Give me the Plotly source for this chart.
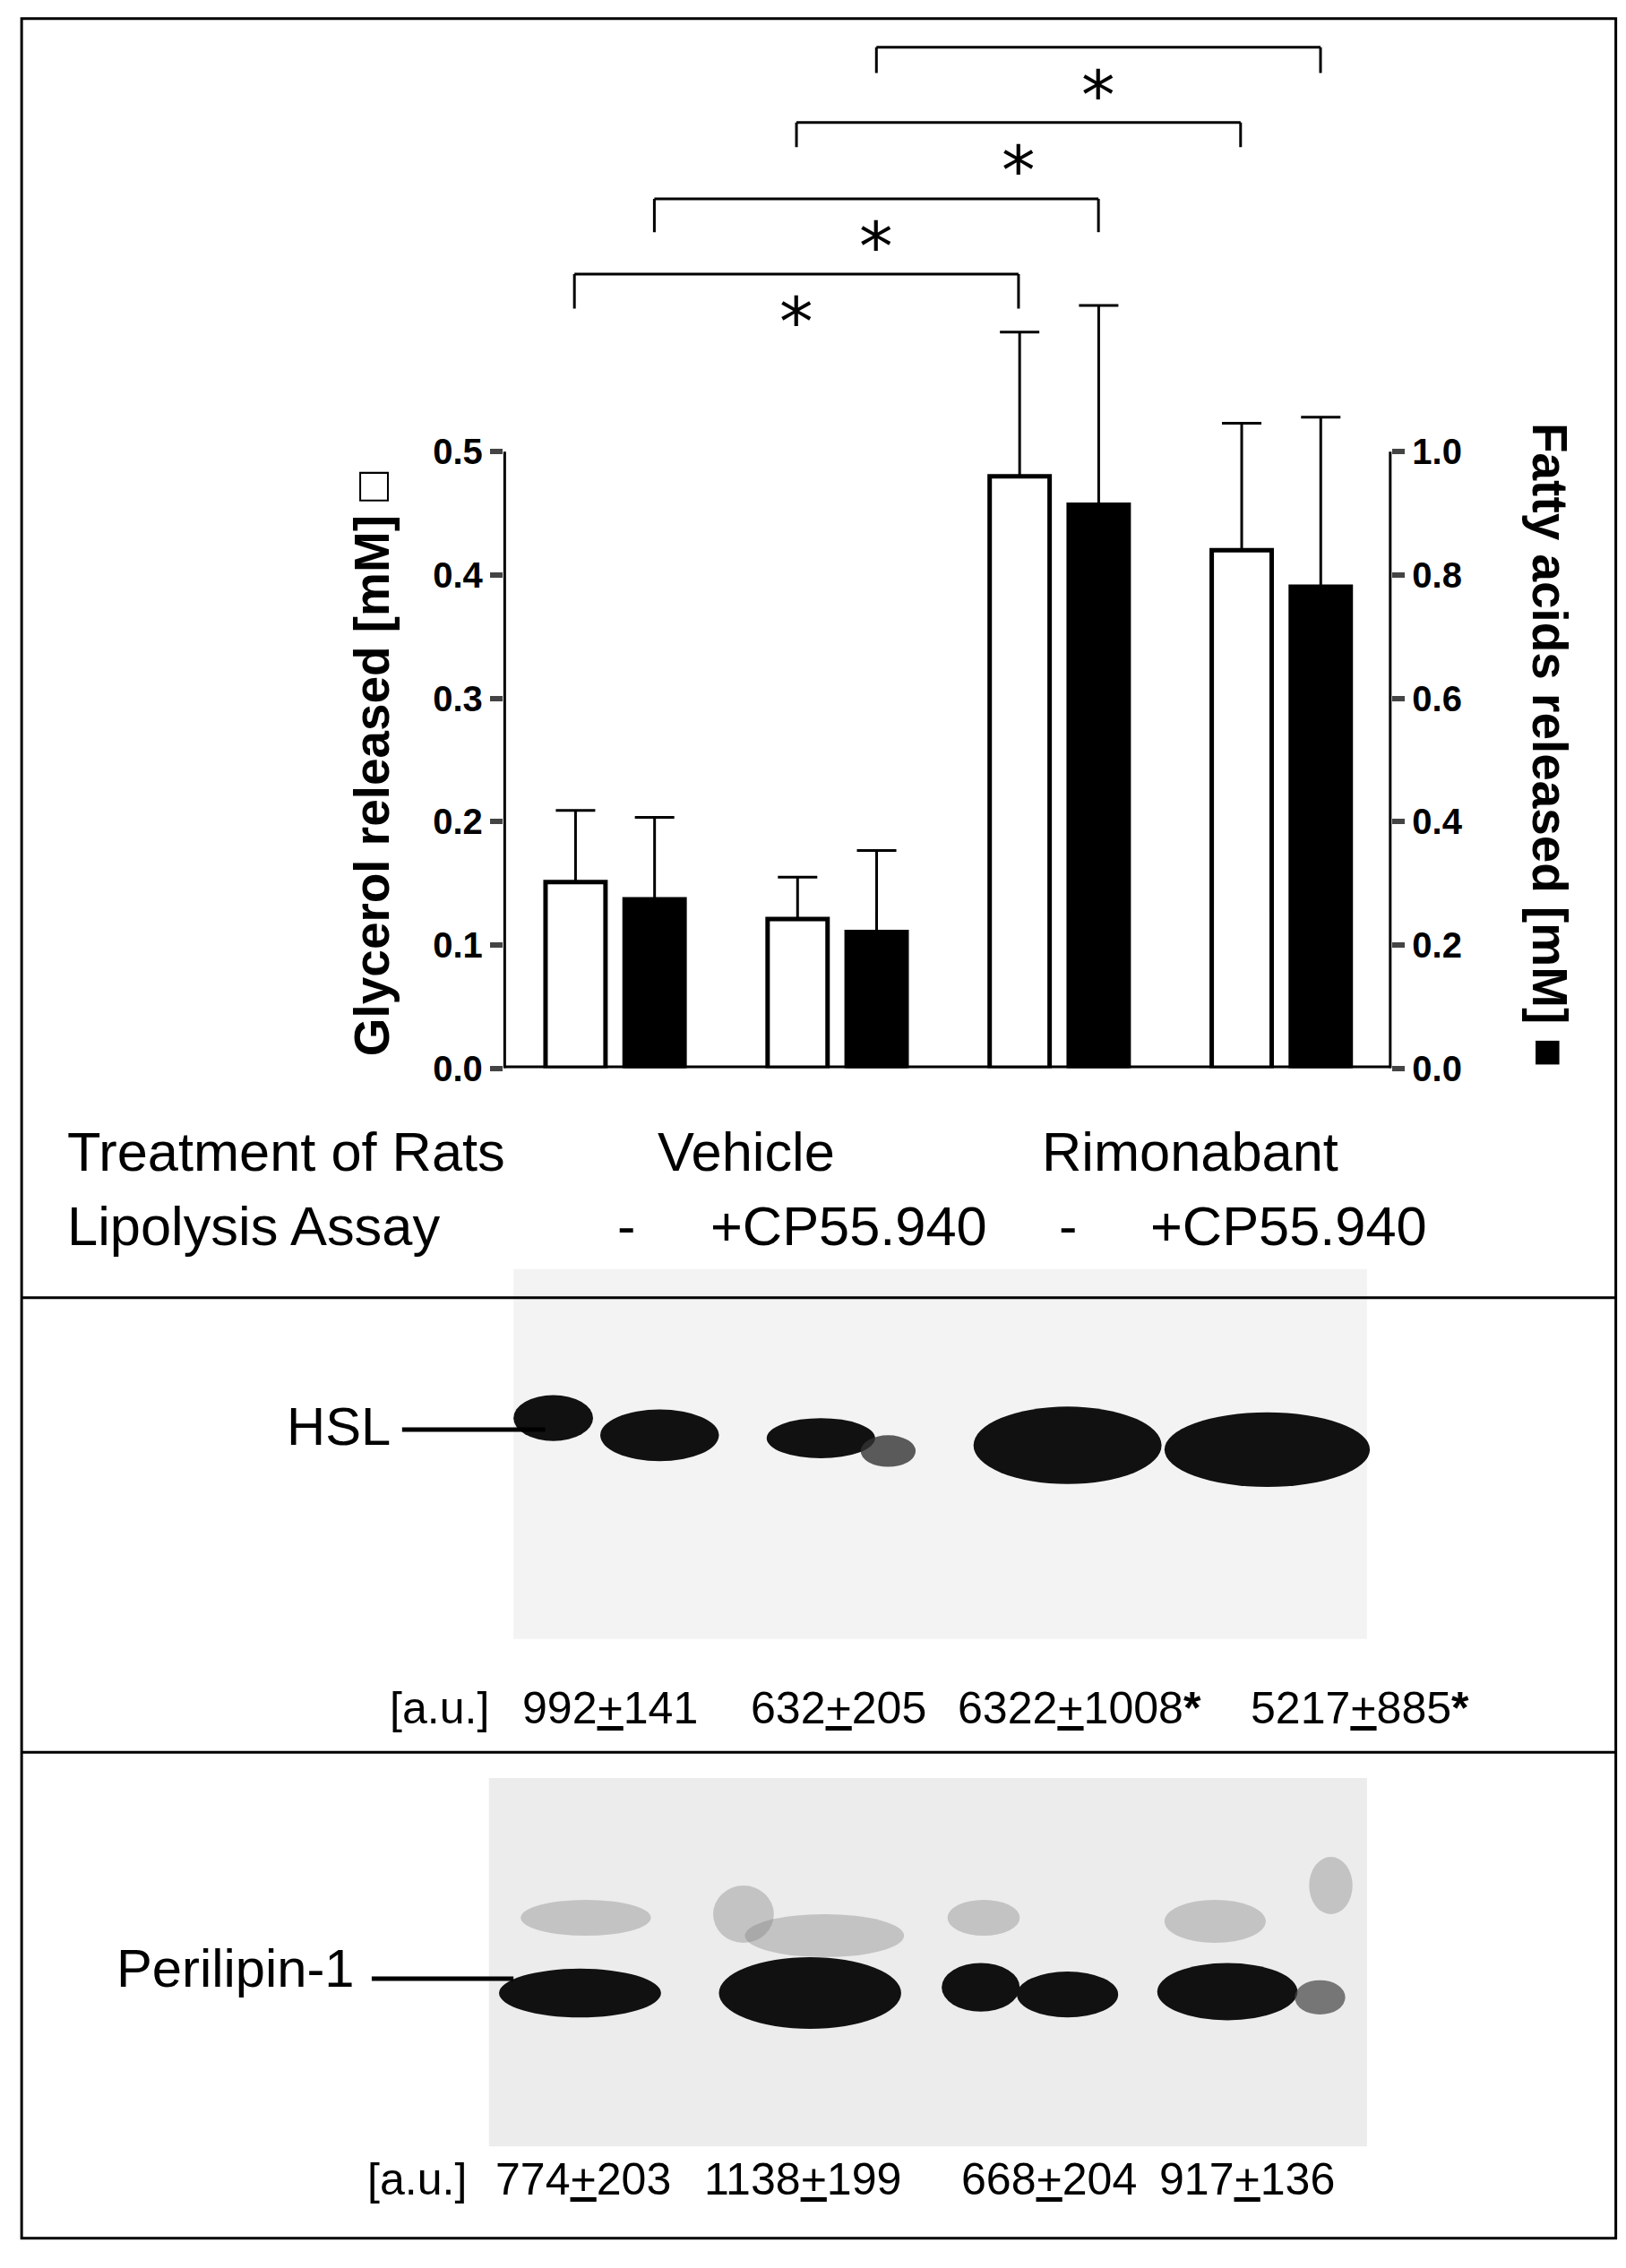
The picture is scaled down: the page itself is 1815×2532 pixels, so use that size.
import plotly.graph_objects as go

# values
groups = [0, 1, 2, 3]
glycerol = [0.151, 0.121, 0.480, 0.420]
glycerol_err = [0.058, 0.034, 0.117, 0.103]
fatty_acids = [0.274, 0.221, 0.914, 0.781]
fatty_err = [0.133, 0.132, 0.323, 0.275]
treatment_labels = ["Vehicle", "Rimonabant"]
assay_labels = ["-", "+CP55.940", "-", "+CP55.940"]
hsl_values = ["992<u>+</u>141", "632<u>+</u>205", "6322<u>+</u>1008<b>*</b>", "5217<u>+</u>885<b>*</b>"]
plin_values = ["774<u>+</u>203", "1138<u>+</u>199", "668<u>+</u>204", "917<u>+</u>136"]

W, H = 1124.0, 1568.0  # reference drawing units
S = 1815 / W
FONT = "Liberation Sans, Arial"


def px(x):
    return x / W


def py(y):
    return 1 - y / H


fig = go.Figure()
fig.add_trace(go.Bar(x=groups, y=glycerol, width=0.27, offset=-0.31,
                     marker=dict(color="white", line=dict(color="black", width=5)),
                     error_y=dict(type="data", array=glycerol_err, symmetric=False, arrayminus=[0] * 4,
                                  color="black", thickness=3, width=22),
                     yaxis="y"))
fig.add_trace(go.Bar(x=groups, y=fatty_acids, width=0.27, offset=0.046,
                     marker=dict(color="black", line=dict(color="black", width=5)),
                     error_y=dict(type="data", array=fatty_err, symmetric=False, arrayminus=[0] * 4,
                                  color="black", thickness=3, width=22),
                     yaxis="y2"))

ytop = 0.8372
tickfont = dict(family=FONT, size=40, color="black", weight="bold")
fig.update_layout(
    width=1815, height=2532, margin=dict(l=0, r=0, t=0, b=0),
    paper_bgcolor="white", plot_bgcolor="white", showlegend=False, barmode="overlay",
    xaxis=dict(domain=[px(343), px(957)], range=[-0.5, 3.5], showticklabels=False,
               showgrid=False, zeroline=False, showline=False, ticks=""),
    yaxis=dict(domain=[py(740), py(20)], range=[0, ytop], tickvals=[0, 0.1, 0.2, 0.3, 0.4, 0.5],
               ticktext=["0.0", "0.1", "0.2", "0.3", "0.4", "0.5"], ticks="outside", ticklen=14,
               tickwidth=6, showgrid=False, zeroline=False, showline=False, tickfont=tickfont),
    yaxis2=dict(overlaying="y", side="right", range=[0, 2 * ytop],
                tickvals=[0, 0.2, 0.4, 0.6, 0.8, 1.0],
                ticktext=["0.0", "0.2", "0.4", "0.6", "0.8", "1.0"], ticks="outside", ticklen=14,
                tickwidth=6, showgrid=False, zeroline=False, showline=False, tickfont=tickfont),
)

shapes = []
line_k = dict(color="black", width=6)
# axis lines
shapes.append(dict(type="line", xref="x", yref="y", x0=-0.5, x1=-0.5, y0=0, y1=0.5, line=line_k))
shapes.append(dict(type="line", xref="x", yref="y", x0=3.5, x1=3.5, y0=0, y1=0.5, line=line_k))
shapes.append(dict(type="line", xref="x", yref="y", x0=-0.5, x1=3.5, y0=0, y1=0, line=line_k))

# significance brackets: from bar, to bar, height, drop
white_c, black_c = -0.18, 0.18
brackets = [(0 + white_c, 2 + white_c, 0.644, 0.028),
            (0 + black_c, 2 + black_c, 0.705, 0.027),
            (1 + white_c, 3 + white_c, 0.767, 0.020),
            (1 + black_c, 3 + black_c, 0.828, 0.021)]
for x0, x1, yb, d in brackets:
    for seg in [(x0, yb - d, x0, yb), (x0, yb, x1, yb), (x1, yb, x1, yb - d)]:
        shapes.append(dict(type="line", xref="x", yref="y", x0=seg[0], y0=seg[1], x1=seg[2], y1=seg[3],
                           line=dict(color="black", width=3)))
    fig.add_annotation(x=(x0 + x1) / 2, y=yb - 0.005, xref="x", yref="y", text="*", showarrow=False,
                       yanchor="top", font=dict(family="DejaVu Sans", size=75, color="black"))

# panel frame and dividers
shapes.append(dict(type="rect", xref="paper", yref="paper", x0=px(10), x1=px(1112), y0=py(1556), y1=py(8),
                   line=dict(color="black", width=3)))
for yy in (900, 1217):
    shapes.append(dict(type="line", xref="paper", yref="paper", x0=px(10), x1=px(1112), y0=py(yy), y1=py(yy),
                       line=dict(color="black", width=3)))

# blot backgrounds
shapes.append(dict(type="rect", xref="paper", yref="paper", x0=px(350), x1=px(940), y0=py(1138), y1=py(880),
                   fillcolor="#f3f3f3", line=dict(width=0), layer="below"))
shapes.append(dict(type="rect", xref="paper", yref="paper", x0=px(333), x1=px(940), y0=py(1492), y1=py(1235),
                   fillcolor="#ececec", line=dict(width=0), layer="below"))


def blob(x0, x1, y0, y1, color="#111111", op=1.0):
    shapes.append(dict(type="circle", xref="paper", yref="paper", x0=px(x0), x1=px(x1), y0=py(y1), y1=py(y0),
                       fillcolor=color, opacity=op, line=dict(width=0)))


# HSL bands
blob(350, 405, 968, 1000)
blob(410, 492, 978, 1014)
blob(525, 600, 984, 1012)
blob(590, 628, 996, 1018, "#333333", 0.8)
blob(668, 798, 976, 1030)
blob(800, 942, 980, 1032)
# Perilipin smudges and bands
for b in [(355, 445, 1320, 1345), (488, 530, 1310, 1350), (510, 620, 1330, 1360), (650, 700, 1320, 1345),
          (800, 870, 1320, 1350), (900, 930, 1290, 1330)]:
    blob(*b, color="#777777", op=0.35)
blob(340, 452, 1368, 1402)
blob(492, 618, 1360, 1410)
blob(646, 700, 1364, 1398)
blob(698, 768, 1370, 1402)
blob(795, 892, 1364, 1404)
blob(890, 925, 1376, 1400, "#444444", 0.7)

# label pointer lines
shapes.append(dict(type="line", xref="paper", yref="paper", x0=px(273), x1=px(372), y0=py(992), y1=py(992),
                   line=dict(color="black", width=5)))
shapes.append(dict(type="line", xref="paper", yref="paper", x0=px(252), x1=px(350), y0=py(1375), y1=py(1375),
                   line=dict(color="black", width=5)))
fig.update_layout(shapes=shapes)


def text(x, y, s, size, anchor="left", angle=0, bold=False):
    fig.add_annotation(x=px(x), y=py(y), xref="paper", yref="paper", text=s, showarrow=False,
                       xanchor=anchor, yanchor="middle", textangle=angle,
                       font=dict(family=FONT, size=size * S, color="black", weight="bold" if bold else "normal"))


text(252, 528, "Glycerol released [mM] □", 34, "center", -90, True)
text(1066, 515, "Fatty acids released [mM] ■", 34, "center", 90, True)

text(40, 798, "Treatment of Rats", 38)
text(40, 850, "Lipolysis Assay", 38)
text(511, 798, treatment_labels[0], 38, "center")
text(818, 798, treatment_labels[1], 38, "center")
for xx, lab in zip([428, 582, 733, 886], assay_labels):
    text(xx, 850, lab, 38, "center")

text(229, 990, "HSL", 37, "center")
text(158, 1368, "Perilipin-1", 37, "center")

text(263, 1186, "[a.u.]", 31)
for xx, lab in zip([417, 575, 741, 935], hsl_values):
    text(xx, 1186, lab, 31, "center")
text(248, 1515, "[a.u.]", 31)
for xx, lab in zip([398, 550, 720, 857], plin_values):
    text(xx, 1515, lab, 31, "center")

fig.write_html("out.html")
